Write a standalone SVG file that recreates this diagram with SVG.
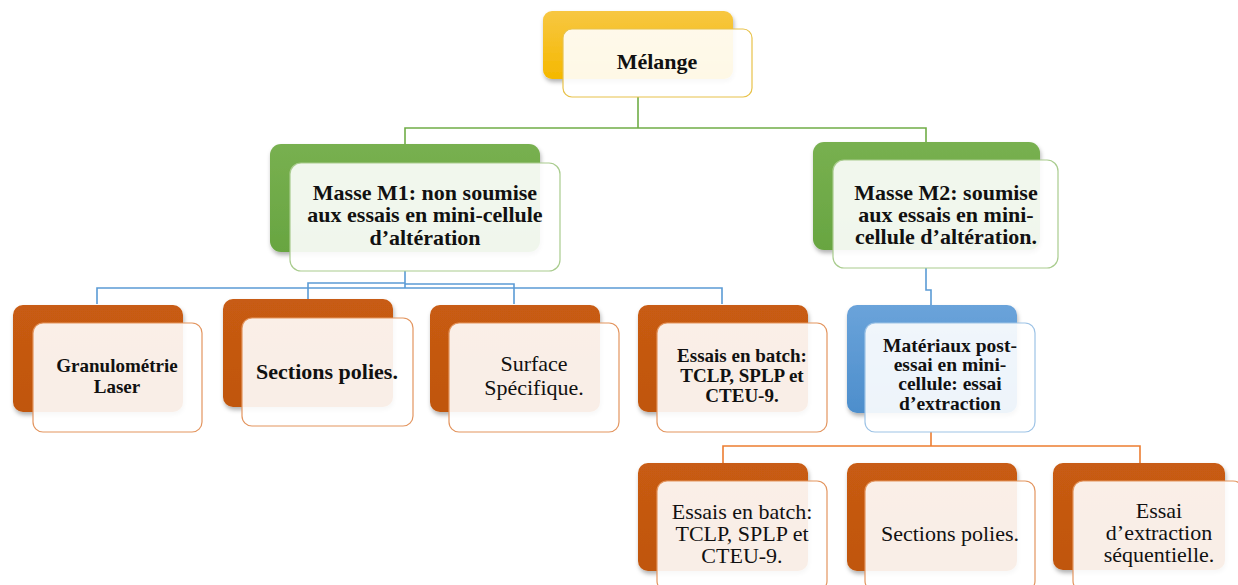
<svg xmlns="http://www.w3.org/2000/svg" width="1238" height="585" viewBox="0 0 1238 585">
<defs>
  <linearGradient id="gGold" x1="0" y1="0" x2="0" y2="1"><stop offset="0" stop-color="#F7C742"/><stop offset="1" stop-color="#F5B800"/></linearGradient>
  <linearGradient id="gGreen" x1="0" y1="0" x2="0" y2="1"><stop offset="0" stop-color="#78B050"/><stop offset="1" stop-color="#68A541"/></linearGradient>
  <linearGradient id="gOrange" x1="0" y1="0" x2="0" y2="1"><stop offset="0" stop-color="#C85B12"/><stop offset="1" stop-color="#C0560F"/></linearGradient>
  <linearGradient id="gBlue" x1="0" y1="0" x2="0" y2="1"><stop offset="0" stop-color="#6AA3DA"/><stop offset="1" stop-color="#4D8ECC"/></linearGradient>
  <filter id="sh" x="-10%" y="-10%" width="125%" height="130%"><feDropShadow dx="1" dy="3" stdDeviation="2" flood-color="#000" flood-opacity="0.3"/></filter>
</defs>
<style>
  .back{filter:url(#sh)}
  .front{fill:#fff;fill-opacity:0.9;stroke-width:1.2}
  .gold{stroke:#E8C24A}
  .green{stroke:#A9CC8E}
  .orange{stroke:#E3955F}
  .blue{stroke:#9DC3E6}
  .t{font-family:'Liberation Serif',serif;fill:#111;text-anchor:middle}
  .b{font-weight:bold}
  .c{fill:none;stroke-width:1.6}
</style>
<g id="connectors">
  <path class="c" stroke="#70AD47" d="M638 97V128M405 144V128H926V142"/>
  <path class="c" stroke="#5B9BD5" d="M405 271V288M97 304V288H722V304M405 283H308V299M514 304V284H405"/>
  <path class="c" stroke="#5B9BD5" d="M926 268V290H931V305"/>
  <path class="c" stroke="#ED7D31" d="M931 432V446M723 463V446H1140V463"/>
</g>
<g id="n-melange">
  <rect class="back" x="543" y="11" width="190" height="68" rx="9" fill="url(#gGold)"/>
  <rect class="front gold" x="563" y="29" width="189" height="68" rx="9"/>
  <text class="t b" font-family="Liberation Serif, serif" x="657" y="69" font-size="22">Mélange</text>
</g>
<g id="n-m1">
  <rect class="back" x="270" y="144" width="270" height="108" rx="11" fill="url(#gGreen)"/>
  <rect class="front green" x="290" y="163" width="270" height="108" rx="11"/>
  <text class="t b" font-family="Liberation Serif, serif" font-size="22"><tspan x="425" y="200">Masse M1: non soumise</tspan><tspan x="425" y="222">aux essais en mini-cellule</tspan><tspan x="425" y="245">d’altération</tspan></text>
</g>
<g id="n-m2">
  <rect class="back" x="813" y="142" width="227" height="108" rx="11" fill="url(#gGreen)"/>
  <rect class="front green" x="833" y="160" width="225" height="108" rx="11"/>
  <text class="t b" font-family="Liberation Serif, serif" font-size="22"><tspan x="946" y="200">Masse M2: soumise</tspan><tspan x="946" y="222">aux essais en mini-</tspan><tspan x="946" y="244">cellule d’altération.</tspan></text>
</g>
<g id="n-granulo">
  <rect class="back" x="13" y="305" width="170" height="107" rx="10" fill="url(#gOrange)"/>
  <rect class="front orange" x="33" y="323" width="169" height="109" rx="10"/>
  <text class="t b" font-family="Liberation Serif, serif" font-size="19"><tspan x="117" y="372">Granulométrie</tspan><tspan x="117" y="393">Laser</tspan></text>
</g>
<g id="n-sections1">
  <rect class="back" x="223" y="299" width="170" height="108" rx="10" fill="url(#gOrange)"/>
  <rect class="front orange" x="242" y="318" width="171" height="108" rx="10"/>
  <text class="t b" font-family="Liberation Serif, serif" x="327" y="379" font-size="22">Sections polies.</text>
</g>
<g id="n-surface">
  <rect class="back" x="430" y="305" width="170" height="107" rx="10" fill="url(#gOrange)"/>
  <rect class="front orange" x="449" y="323" width="170" height="109" rx="10"/>
  <text class="t" font-family="Liberation Serif, serif" font-size="22"><tspan x="534" y="371">Surface</tspan><tspan x="534" y="395">Spécifique.</tspan></text>
</g>
<g id="n-batch1">
  <rect class="back" x="638" y="305" width="170" height="107" rx="10" fill="url(#gOrange)"/>
  <rect class="front orange" x="657" y="323" width="170" height="109" rx="10"/>
  <text class="t b" font-family="Liberation Serif, serif" font-size="19"><tspan x="742" y="362">Essais en batch:</tspan><tspan x="742" y="382">TCLP, SPLP et</tspan><tspan x="742" y="402">CTEU-9.</tspan></text>
</g>
<g id="n-materiaux">
  <rect class="back" x="847" y="305" width="170" height="108" rx="10" fill="url(#gBlue)"/>
  <rect class="front blue" x="865" y="323" width="170" height="109" rx="10"/>
  <text class="t b" font-family="Liberation Serif, serif" font-size="19.5"><tspan x="950" y="352">Matériaux post-</tspan><tspan x="950" y="371">essai en mini-</tspan><tspan x="950" y="390">cellule: essai</tspan><tspan x="950" y="410">d’extraction</tspan></text>
</g>
<g id="n-batch2">
  <rect class="back" x="638" y="463" width="170" height="108" rx="10" fill="url(#gOrange)"/>
  <rect class="front orange" x="657" y="481" width="170" height="110" rx="10"/>
  <text class="t" font-family="Liberation Serif, serif" font-size="22"><tspan x="742" y="519">Essais en batch:</tspan><tspan x="742" y="541">TCLP, SPLP et</tspan><tspan x="742" y="563">CTEU-9.</tspan></text>
</g>
<g id="n-sections2">
  <rect class="back" x="847" y="463" width="170" height="108" rx="10" fill="url(#gOrange)"/>
  <rect class="front orange" x="865" y="481" width="170" height="110" rx="10"/>
  <text class="t" font-family="Liberation Serif, serif" x="950" y="541" font-size="22">Sections polies.</text>
</g>
<g id="n-extraction">
  <rect class="back" x="1053" y="463" width="172" height="107" rx="10" fill="url(#gOrange)"/>
  <rect class="front orange" x="1073" y="481" width="170" height="110" rx="10"/>
  <text class="t" font-family="Liberation Serif, serif" font-size="22"><tspan x="1159" y="518">Essai</tspan><tspan x="1159" y="540">d’extraction</tspan><tspan x="1159" y="562">séquentielle.</tspan></text>
</g>
</svg>
